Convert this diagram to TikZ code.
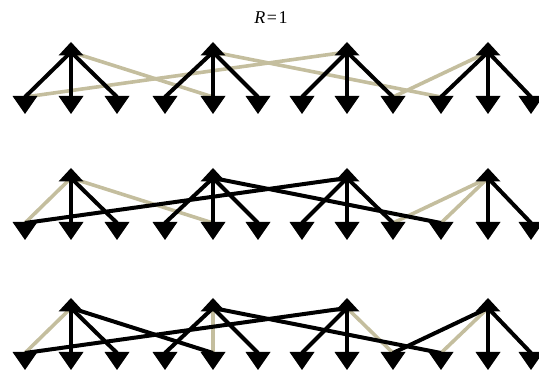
\documentclass[tikz,border=0pt]{standalone}
\usepackage{fontspec}
\setmainfont{Liberation Serif}
\definecolor{khaki}{RGB}{196,190,158}

\begin{document}
\begin{tikzpicture}[x=1pt,y=-1pt,line join=round,
 blk/.style={line width=4pt,black},
 tan/.style={line width=3.6pt,khaki},
 uptri/.style={fill=black},
 dntri/.style={fill=black}]
\useasboundingbox (0,0) rectangle (539,371);
\node[font=\fontsize{18}{21}\selectfont] (title) at (271,18) {\textit{R}\kern1.5pt=\kern1.5pt1};
% three rows: 4 top nodes, 12 bottom nodes each
\foreach \r/\dy in {1/0,2/126,3/256}{
 \foreach \i/\x in {1/71,2/213,3/347,4/488}
  \coordinate (r\r t\i) at (\x,52+\dy);
 \foreach \i/\x in {1/25,2/71,3/117,4/165,5/213,6/258,7/302,8/347,9/393,10/441,11/488,12/531}
  \coordinate (r\r b\i) at (\x,97+\dy);
}
% row 1
\foreach \t/\b in {1/5,2/10,3/1,4/9} \draw[tan] (r1t\t)--(r1b\b);
\foreach \t/\b in {1/1,1/2,1/3,2/4,2/5,2/6,3/7,3/8,3/9,4/10,4/11,4/12} \draw[blk] (r1t\t)--(r1b\b);
% row 2
\foreach \t/\b in {1/1,1/5,4/9,4/10} \draw[tan] (r2t\t)--(r2b\b);
\foreach \t/\b in {1/2,1/3,2/4,2/5,2/6,2/10,3/1,3/7,3/8,3/9,4/11,4/12} \draw[blk] (r2t\t)--(r2b\b);
% row 3
\foreach \t/\b in {1/1,2/5,3/9,4/10} \draw[tan] (r3t\t)--(r3b\b);
\foreach \t/\b in {1/2,1/3,1/5,2/4,2/6,2/10,3/1,3/7,3/8,4/9,4/11,4/12} \draw[blk] (r3t\t)--(r3b\b);
% arrow heads
\foreach \r in {1,2,3}{
 \foreach \i in {1,...,4}
  \fill[uptri] (r\r t\i) ++(0,-10) -- ++(12.5,13.5) -- ++(-25,0) -- cycle;
 \foreach \i in {1,...,12}
  \fill[dntri] (r\r b\i) ++(-12.5,-1) -- ++(25,0) -- ++(-12.5,18) -- cycle;
}
\end{tikzpicture}
\end{document}
